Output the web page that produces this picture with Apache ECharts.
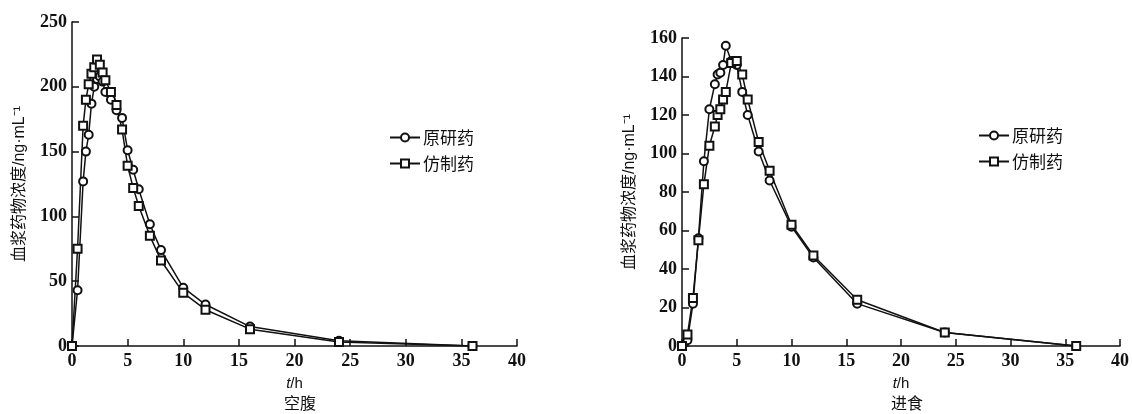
<!DOCTYPE html>
<html>
<head>
<meta charset="utf-8">
<script src="https://cdn.jsdelivr.net/npm/echarts@6/dist/echarts.min.js"></script>
<style>
html,body{margin:0;padding:0;background:#fff;}
#c{width:1132px;height:414px;}
</style>
</head>
<body>
<div id="c"></div>
<script>
// ---- data ----
const seriesNames = ['原研药', '仿制药'];
const panelTitles = ['空腹', '进食'];
const yAxisName = '血浆药物浓度/ng·mL⁻¹';

// 空腹 (fasting)
const fastTime = [0, 0.5, 1, 1.25, 1.5, 1.75, 2, 2.25, 2.5, 2.75, 3, 3.5, 4, 4.5, 5, 5.5, 6, 7, 8, 10, 12, 16, 24, 36];
const fastRef = [0, 43, 127, 150, 163, 187, 200, 206, 208, 204, 196, 190, 182, 176, 151, 136, 121, 94, 74, 45, 32, 15, 4, 0];
const fastGen = [0, 75, 170, 190, 202, 210, 215, 221, 217, 211, 205, 196, 186, 167, 139, 122, 108, 85, 66, 41, 28, 13, 3, 0];

// 进食 (fed)
const fedTime = [0, 0.5, 1, 1.5, 2, 2.5, 3, 3.25, 3.5, 3.75, 4, 4.5, 5, 5.5, 6, 7, 8, 10, 12, 16, 24, 36];
const fedRef = [0, 3, 22, 56, 96, 123, 136, 141, 142, 146, 156, 148, 146, 132, 120, 101, 86, 62, 46, 22, 7, 0];
const fedGen = [0, 6, 25, 55, 84, 104, 114, 120, 123, 128, 132, 147, 148, 141, 128, 106, 91, 63, 47, 24, 7, 0];

const xTicks = {min: 0, max: 40, interval: 5};
const yTicksFast = {min: 0, max: 250, interval: 50};
const yTicksFed = {min: 0, max: 160, interval: 20};

// ---- chart ----
const pair = (t, v) => t.map((x, i) => [x, v[i]]);
const chart = echarts.init(document.getElementById('c'), null, {renderer: 'canvas'});
const black = '#111';
const tickFont = {fontFamily: 'Liberation Serif', fontWeight: 'bold', fontSize: 18, color: black};
const mixFont = "'Liberation Sans', 'Noto Sans CJK SC'";

function xAxis(gi) {
  return {
    type: 'value', gridIndex: gi, min: xTicks.min, max: xTicks.max, interval: xTicks.interval,
    axisLine: {show: true, lineStyle: {color: black, width: 1.5}},
    axisTick: {show: true, inside: true, length: 7, lineStyle: {color: black, width: 1.5}},
    splitLine: {show: false},
    axisLabel: Object.assign({margin: 6}, tickFont),
    name: '{i|t}/h', nameLocation: 'middle', nameGap: 30,
    nameTextStyle: {fontFamily: 'Liberation Sans', fontSize: 15, color: black,
      rich: {i: {fontFamily: 'Liberation Sans', fontStyle: 'italic', fontSize: 15, color: black}}}
  };
}
function yAxis(gi, t) {
  return {
    type: 'value', gridIndex: gi, min: t.min, max: t.max, interval: t.interval,
    axisLine: {show: true, lineStyle: {color: black, width: 1.5}},
    axisTick: {show: true, inside: true, length: 7, lineStyle: {color: black, width: 1.5}},
    splitLine: {show: false},
    axisLabel: Object.assign({margin: 5}, tickFont),
    name: yAxisName, nameLocation: 'middle', nameGap: 44, nameRotate: 90,
    nameTextStyle: {fontFamily: mixFont, fontSize: 16, color: black}
  };
}
function series(name, gi, data, sym) {
  return {
    name: name, type: 'line', xAxisIndex: gi, yAxisIndex: gi, data: data,
    symbol: sym, symbolSize: 8, showAllSymbol: true,
    lineStyle: {color: black, width: 1.5},
    itemStyle: {color: black, borderColor: black, borderWidth: 1.5},
    emphasis: {disabled: true}, animation: false
  };
}
function legend(left, top) {
  return {
    orient: 'vertical', left: left, top: top, itemWidth: 30, itemHeight: 10, itemGap: 9,
    data: seriesNames,
    textStyle: {fontFamily: 'Noto Sans CJK SC', fontSize: 17, color: black, padding: [0, 0, 0, -2]},
    inactiveColor: '#999'
  };
}

chart.setOption({
  backgroundColor: '#fff',
  animation: false,
  title: [
    {text: panelTitles[0], left: 295, top: 390, textAlign: 'center',
     textStyle: {fontFamily: 'Noto Sans CJK SC', fontSize: 16, fontWeight: 'normal', color: black}},
    {text: panelTitles[1], left: 902, top: 390, textAlign: 'center',
     textStyle: {fontFamily: 'Noto Sans CJK SC', fontSize: 16, fontWeight: 'normal', color: black}}
  ],
  legend: [legend(384, 124), legend(973, 122)],
  grid: [
    {left: 72, top: 22, width: 445, height: 324},
    {left: 682, top: 38, width: 440, height: 308}
  ],
  xAxis: [xAxis(0), xAxis(1)],
  yAxis: [yAxis(0, yTicksFast), yAxis(1, yTicksFed)],
  series: [
    series(seriesNames[0], 0, pair(fastTime, fastRef), 'emptyCircle'),
    series(seriesNames[1], 0, pair(fastTime, fastGen), 'emptyRect'),
    series(seriesNames[0], 1, pair(fedTime, fedRef), 'emptyCircle'),
    series(seriesNames[1], 1, pair(fedTime, fedGen), 'emptyRect')
  ]
});
</script>
</body>
</html>
